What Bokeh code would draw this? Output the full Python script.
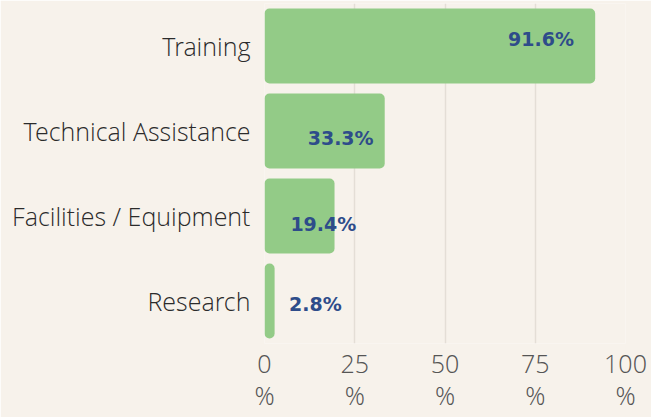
from bokeh.plotting import figure
from bokeh.models import ColumnDataSource, FactorRange, Range1d, LinearAxis, FixedTicker
from bokeh.core.properties import value
from bokeh.embed import file_html
from bokeh.resources import INLINE

categories = ["Training", "Technical Assistance", "Facilities / Equipment", "Research"]
values = [91.6, 33.3, 19.4, 2.8]
labels = ["91.6%", "33.3%", "19.4%", "2.8%"]
ticks = [0, 25, 50, 75, 100]

# label layout (data-x of label centre, pixel y offset)
label_x = [76.6, 21.1, 16.3, 14.1]
label_dy = [-7.5, 6.5, 7.5, 2.5]

BG = "#F7F2EB"
GREEN = "#93CB87"
NAVY = "#2E4C8A"
LIGHT = "Open Sans Light"

src = ColumnDataSource(dict(cat=categories, val=values, lab=labels, lx=label_x, dy=label_dy))

p = figure(width=651, height=417, output_backend="svg", toolbar_location=None,
           y_range=FactorRange(*reversed(categories)), x_range=Range1d(0, 100),
           x_axis_location=None)
p.background_fill_color = BG
p.border_fill_color = BG
p.outline_line_color = None
p.min_border_left = 264
p.min_border_right = 26
p.min_border_top = 3
p.min_border_bottom = 74

p.hbar(y="cat", right="val", left=0, height=0.88, source=src, fill_color=GREEN,
       line_color=None, border_radius=5)
p.text(x="lx", y="cat", text="lab", source=src, y_offset="dy", text_align="center",
       text_baseline="middle", text_font=value("DejaVu Sans"), text_font_style="bold",
       text_font_size="19px", text_color=NAVY)

p.xgrid.ticker = FixedTicker(ticks=ticks)
p.xgrid.grid_line_color = "#E4DED6"
p.xgrid.grid_line_width = 1.5
p.ygrid.grid_line_color = None

ax = p.yaxis[0]
ax.axis_line_color = None
ax.major_tick_line_color = None
ax.minor_tick_line_color = None
ax.major_label_text_font = LIGHT
ax.major_label_text_font_style = "normal"
ax.major_label_text_font_size = "25px"
ax.major_label_text_color = "#2B2B2B"
ax.major_label_standoff = 8

def mk_axis(overrides, standoff):
    a = LinearAxis(ticker=FixedTicker(ticks=ticks))
    a.major_label_overrides = overrides
    a.axis_line_color = None
    a.major_tick_line_color = None
    a.minor_tick_line_color = None
    a.major_tick_in = 0
    a.major_tick_out = 0
    a.major_label_text_font = LIGHT
    a.major_label_text_font_size = "25px"
    a.major_label_text_color = "#555555"
    a.major_label_standoff = standoff
    return a

p.add_layout(mk_axis({t: str(t) for t in ticks}, 11), "below")
p.add_layout(mk_axis({t: "%" for t in ticks}, 2), "below")

open("out.html", "w").write(file_html(p, INLINE))
